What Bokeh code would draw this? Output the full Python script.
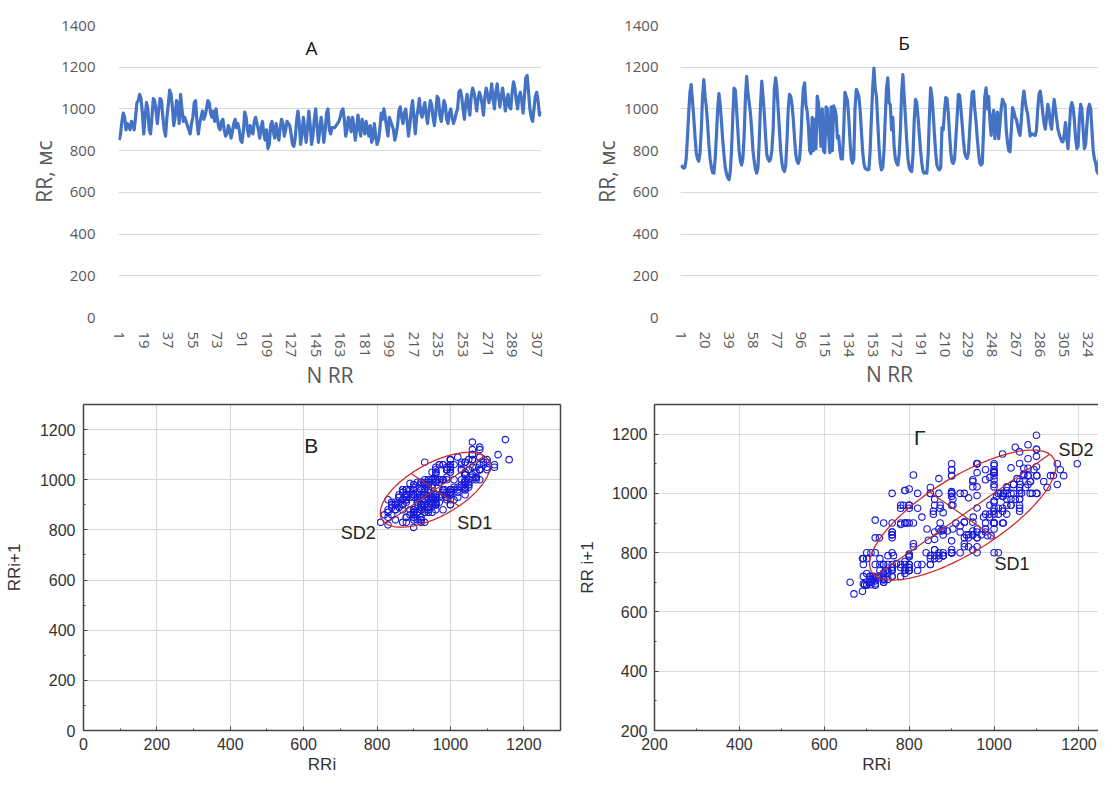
import numpy as np
from bokeh.plotting import figure
from bokeh.layouts import column, row
from bokeh.models import Range1d, FixedTicker, SingleIntervalTicker, LinearAxis
from bokeh.core.properties import value
from bokeh.embed import file_html
from bokeh.resources import INLINE

# ---------------- data ----------------
rr_a = [
    850, 880, 940, 980, 960, 900, 930, 920, 900, 940,
    930, 900, 960, 1030, 1040, 1070, 1050, 980, 880, 960,
    1030, 1000, 900, 880, 960, 1050, 1040, 990, 930, 1000,
    1050, 1040, 960, 900, 870, 960, 1020, 1090, 1070, 1010,
    920, 960, 1040, 1020, 930, 1070, 1000, 940, 960, 940,
    920, 900, 880, 930, 960, 1030, 1040, 940, 880, 930,
    960, 990, 950, 970, 1000, 1040, 1030, 980, 960, 990,
    940, 1000, 950, 910, 900, 940, 950, 900, 870, 880,
    920, 900, 860, 890, 930, 950, 910, 930, 900, 850,
    840, 890, 985, 960, 900, 870, 920, 890, 880, 940,
    960, 930, 900, 860, 910, 940, 880, 850, 900, 810,
    830, 920, 940, 890, 860, 930, 880, 850, 910, 950,
    930, 870, 900, 940, 930, 920, 880, 830, 820, 860,
    940, 990, 930, 830, 880, 960, 900, 840, 910, 990,
    920, 830, 870, 950, 1000, 920, 840, 900, 960, 910,
    840, 900, 980, 1000, 900, 880, 910, 910, 910, 920,
    930, 940, 960, 990, 1000, 950, 870, 900, 960, 940,
    890, 960, 920, 850, 900, 970, 910, 870, 950, 920,
    880, 940, 900, 870, 920, 840, 860, 930, 870, 830,
    850, 900, 980, 950, 1000, 960, 910, 870, 960, 940,
    920, 900, 850, 880, 920, 990, 1010, 960, 930, 980,
    1000, 940, 870, 920, 990, 1040, 960, 880, 960, 1000,
    1050, 980, 960, 1000, 1030, 970, 930, 990, 1040, 1020,
    960, 920, 980, 1060, 1050, 970, 940, 990, 1040, 1020,
    950, 930, 980, 1000, 960, 930, 950, 980, 1000, 1080,
    1090, 1060, 1000, 950, 1030, 1070, 1010, 970, 1060, 1100,
    1080, 1040, 990, 1050, 1080, 1060, 1020, 970, 1060, 1100,
    1070, 1030, 1060, 1120, 1050, 1000, 1080, 1120, 1060, 1010,
    1060, 1100, 1050, 990, 1040, 1070, 1010, 1000, 1080, 1130,
    1100, 1040, 1000, 1060, 1080, 1040, 980, 1060, 1150, 1160,
    1080, 1000, 960, 940, 1000, 1060, 1080, 1040, 970, 990,
]

rr_b = [
    730, 722, 716, 720, 760, 860, 980, 1080, 1117, 1040,
    960, 870, 790, 760, 750, 790, 900, 1060, 1140, 1060,
    1010, 930, 830, 760, 720, 695, 692, 760, 870, 1000,
    1074, 1020, 940, 850, 780, 720, 690, 670, 661, 700,
    800, 960, 1100, 1090, 1000, 900, 800, 750, 731, 760,
    870, 1050, 1156, 1080, 1030, 980, 900, 800, 750, 710,
    692, 720, 850, 1020, 1133, 1060, 980, 870, 780, 760,
    750, 760, 800, 900, 1100, 1149, 1100, 1000, 900, 800,
    740, 710, 700, 730, 850, 1000, 1070, 1060, 1020, 950,
    860, 780, 750, 739, 760, 850, 1000, 1100, 1125, 1020,
    990, 920, 800, 786, 960, 800, 950, 810, 1062, 1030,
    930, 820, 1000, 800, 790, 1010, 1000, 880, 790, 1010,
    800, 1015, 1000, 970, 860, 870, 800, 760, 760, 900,
    1080, 1060, 1040, 960, 850, 760, 740, 760, 1000, 1094,
    1080, 1060, 1000, 900, 800, 740, 715, 712, 708, 710,
    800, 960, 1100, 1196, 1100, 1060, 940, 820, 740, 708,
    720, 800, 960, 1100, 1149, 1030, 1020, 900, 960, 820,
    760, 740, 731, 780, 900, 1080, 1164, 1060, 960, 850,
    760, 720, 705, 700, 780, 950, 1046, 1030, 960, 880,
    800, 740, 700, 692, 695, 692, 780, 960, 1101, 1060,
    980, 880, 790, 730, 715, 708, 720, 910, 900, 990,
    1054, 1050, 980, 880, 790, 745, 739, 760, 860, 960,
    1070, 1065, 1000, 930, 850, 790, 770, 763, 790, 900,
    1000, 1080, 1085, 1000, 940, 860, 790, 740, 731, 740,
    900, 1060, 1101, 1000, 1060, 950, 873, 960, 993, 857,
    940, 985, 857, 930, 1000, 1046, 1030, 1022, 900, 840,
    800, 795, 900, 1006, 990, 960, 951, 920, 890, 873,
    950, 1040, 1086, 1040, 1000, 975, 920, 870, 880, 880,
    875, 873, 900, 1000, 1070, 1085, 1040, 980, 930, 903,
    960, 1022, 990, 930, 903, 980, 1046, 1000, 950, 903,
    880, 860, 845, 842, 880, 935, 860, 810, 900, 1000,
    1030, 1010, 950, 860, 810, 820, 950, 1022, 1000, 900,
    810, 830, 920, 1000, 1022, 1000, 900, 800, 760, 740,
    700, 690, 780, 895,
]

ticks_a = [1, 19, 37, 55, 73, 91, 109, 127, 145, 163, 181, 199, 217, 235, 253, 271, 289, 307]
ticks_b = [1, 20, 39, 58, 77, 96, 115, 134, 153, 172, 191, 210, 229, 248, 267, 286, 305, 324]
ticks_rr = [0, 200, 400, 600, 800, 1000, 1200, 1400]

# panel letters and labels (data coordinates)
title_a = ("А", 142, 1291)
title_b = ("Б", 178, 1315)
title_v = ("В", 621, 1138)
title_g = ("Г", 825, 1189)
sd_labels_v = (["SD2", "SD1"], [749, 1066], [787, 826])
sd_labels_g = (["SD2", "SD1"], [1193, 1042], [1147, 763])

# ellipse parameters: centre x, centre y, semi-axis along identity line, semi-axis across
ell_v = (958, 960, 190, 92)
ell_g = (926, 927, 290, 110)

EX_FONT = "Open Sans"
ST_FONT = "Liberation Sans"
GRAY = "#595959"
DARK = "#333333"
ROW1_H = 392
ROW2_H = 385


def excel_fig(series, ticks, xr, title, mbl, mbr, mbt, mbb, lab_standoff, ylab_standoff, xlab_standoff):
    p = figure(width=549, height=ROW1_H, x_range=Range1d(*xr), y_range=Range1d(0, 1400),
               output_backend="svg", toolbar_location=None,
               min_border_left=mbl, min_border_right=mbr,
               min_border_top=mbt, min_border_bottom=mbb)
    p.outline_line_color = None
    p.xgrid.visible = False
    p.ygrid.grid_line_color = "#d9d9d9"
    p.ygrid.grid_line_width = 1
    xa = p.xaxis[0]
    xa.ticker = FixedTicker(ticks=ticks)
    xa.major_label_orientation = "vertical"
    ya = p.yaxis[0]
    ya.ticker = FixedTicker(ticks=ticks_rr)
    for ax in (xa, ya):
        ax.axis_line_color = None
        ax.major_tick_line_color = None
        ax.minor_tick_line_color = None
        ax.major_label_text_font = EX_FONT
        ax.major_label_text_font_size = "15px"
        ax.major_label_text_color = GRAY
        ax.axis_label_text_font = EX_FONT
        ax.axis_label_text_font_size = "21px"
        ax.axis_label_text_font_style = "normal"
        ax.axis_label_text_color = GRAY
    xa.major_label_standoff = 8
    xa.axis_label = "N RR"
    xa.axis_label_standoff = xlab_standoff
    ya.major_label_standoff = lab_standoff
    ya.axis_label = "RR, мс"
    ya.axis_label_standoff = ylab_standoff
    x = list(range(1, len(series) + 1))
    p.line(x, series, line_color="#4472C4", line_width=3.2, line_join="round")
    p.text(x=[title[1]], y=[title[2]], text=[title[0]], text_font=value(EX_FONT),
           text_font_size="19px", text_color="#111111", text_align="center",
           text_baseline="middle")
    return p


def stat_axis_style(ax):
    ax.axis_line_color = "#444444"
    ax.axis_line_width = 1.5
    ax.major_tick_in = 4
    ax.major_tick_out = 0
    ax.minor_tick_in = 2
    ax.minor_tick_out = 0
    ax.major_tick_line_color = "#444444"
    ax.minor_tick_line_color = "#444444"
    ax.major_label_text_font = ST_FONT
    ax.major_label_text_font_size = "16px"
    ax.major_label_text_color = DARK
    ax.axis_label_text_font = ST_FONT
    ax.axis_label_text_font_size = "17px"
    ax.axis_label_text_font_style = "normal"
    ax.axis_label_text_color = DARK


def frame_line_axis(p, side):
    ax = LinearAxis(ticker=FixedTicker(ticks=[]))
    ax.axis_line_color = "#444444"
    ax.axis_line_width = 1.5
    ax.major_tick_line_color = None
    ax.minor_tick_line_color = None
    ax.major_label_standoff = 0
    p.add_layout(ax, side)


def poincare_fig(series, width, xr, yr, mbl, mbr, ylabel, title, sd, ell, dotted,
                 right_axis, ystand, ylab_stand):
    p = figure(width=width, height=ROW2_H, x_range=Range1d(*xr), y_range=Range1d(*yr),
               output_backend="svg", toolbar_location=None,
               min_border_left=mbl, min_border_right=mbr,
               min_border_top=12, min_border_bottom=47)
    p.outline_line_color = None
    xa = p.xaxis[0]
    ya = p.yaxis[0]
    xa.ticker = SingleIntervalTicker(interval=200, num_minor_ticks=2)
    ya.ticker = SingleIntervalTicker(interval=200, num_minor_ticks=2)
    stat_axis_style(xa)
    stat_axis_style(ya)
    xa.major_label_standoff = 7
    ya.major_label_standoff = ystand
    xa.axis_label = "RRi"
    xa.axis_label_standoff = 2
    ya.axis_label = ylabel
    ya.axis_label_standoff = ylab_stand
    frame_line_axis(p, "above")
    if right_axis:
        frame_line_axis(p, "right")
    for g in (p.xgrid[0], p.ygrid[0]):
        if dotted:
            g.grid_line_color = "#b8b8b8"
            g.grid_line_dash = "1 1"
        else:
            g.grid_line_color = "#d6d6d6"
        g.grid_line_width = 1
    p.scatter(series[:-1], series[1:], marker="circle", size=6.5, fill_color=None,
              line_color="#1a1ad9", line_width=1.1)
    cx, cy, a, b = ell
    t = np.linspace(0, 2 * np.pi, 240)
    r2 = np.sqrt(2.0)
    ex = cx + (a * np.cos(t) - b * np.sin(t)) / r2
    ey = cy + (a * np.cos(t) + b * np.sin(t)) / r2
    p.line(ex, ey, line_color="#cc2a2a", line_width=1.3)
    p.line([cx - a / r2, cx + a / r2], [cy - a / r2, cy + a / r2], line_color="#b03030", line_width=1.2)
    p.line([cx + b / r2, cx - b / r2], [cy - b / r2, cy + b / r2], line_color="#b03030", line_width=1.2)
    p.text(x=[title[1]], y=[title[2]], text=[title[0]], text_font=value(ST_FONT),
           text_font_size="21px", text_color="#222222", text_align="center",
           text_baseline="middle")
    p.text(x=sd[1], y=sd[2], text=sd[0], text_font=value(ST_FONT),
           text_font_size="18px", text_color="#222222", text_align="center",
           text_baseline="middle")
    return p


pa = excel_fig(rr_a, ticks_a, (0.5, 310.5), title_a, 118, 8, 20, 75, 17, 0, 1)
pb = excel_fig(rr_b, ticks_b, (0.5, 332.2), title_b, 131, 0, 25, 70, 16, 0, 0)

pv = poincare_fig(rr_a, 574, (0, 1300), (0, 1300), 83, 14, "RRi+1", title_v,
                  sd_labels_v, ell_v, False, True, 8, 13)
pg = poincare_fig(rr_b, 524, (200, 1246), (200, 1300), 76, 0, "RR i+1", title_g,
                  sd_labels_g, ell_g, True, False, 7, 12)

layout = column(row(pa, pb), row(pv, pg))
open("out.html", "w").write(file_html(layout, INLINE))
